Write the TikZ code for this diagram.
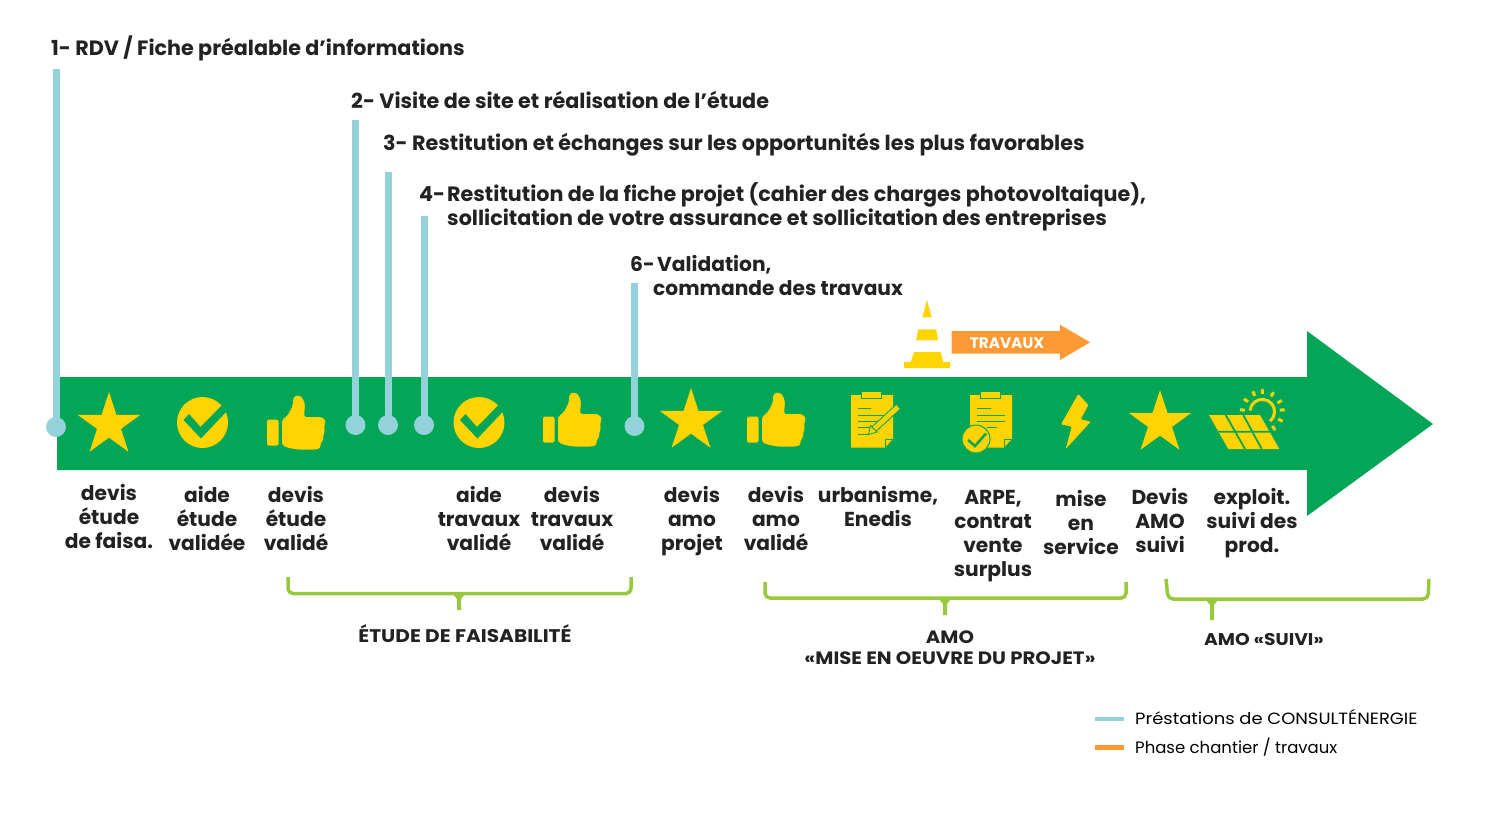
\documentclass[tikz,border=0pt]{standalone}
\usepackage{fontspec}
\setmainfont{Poppins}
\newfontfamily\widefont[FakeStretch=1.1]{Poppins}
\usetikzlibrary{positioning,shapes.geometric}
\definecolor{bandgreen}{HTML}{03A657}
\definecolor{iconyellow}{HTML}{FFD400}
\definecolor{pinblue}{HTML}{93D1DB}
\definecolor{workorange}{HTML}{FF9933}
\definecolor{bracelime}{HTML}{97C93D}
\definecolor{inkdark}{HTML}{222222}
\tikzstyle{stepbox}=[text=inkdark, anchor=north, align=center, inner sep=0pt,
                    font=\fontsize{20.2}{24}\selectfont\bfseries]
\tikzstyle{headbox}=[text=inkdark, anchor=west, align=left, inner sep=0pt,
                    font=\fontsize{20.7}{24}\selectfont\bfseries]
\tikzstyle{phasebox}=[text=inkdark, align=center, inner sep=0pt,
                    font=\widefont\fontsize{17.9}{21}\selectfont\bfseries]
\tikzstyle{legendbox}=[text=black, anchor=west, inner sep=0pt, font=\fontsize{16.5}{20}\selectfont]
\tikzstyle{pinhead}=[circle, fill=pinblue, minimum size=20pt, inner sep=0pt]
\tikzstyle{pinbar}=[-, draw=pinblue, line width=7pt]
\tikzstyle{staricon}=[star, star points=5, star point ratio=2.618, fill=iconyellow,
                    minimum size=66pt, inner sep=0pt]
\tikzstyle{brace}=[-, draw=bracelime, line width=3.5pt, rounded corners=5pt]
\tikzstyle{legline}=[-, line width=4.5pt]
\newcommand{\checkicon}[2]{
 \begin{scope}[shift={(#1,#2)}]
 \fill[iconyellow] (0,0) circle (25.5);
 \fill[bandgreen] (-19,-2.5) -- (-13.5,-8.5) -- (-2,4.5) -- (19.5,-17.5) -- (24,-11) -- (-1.5,16) -- cycle;
 \end{scope}}
\newcommand{\thumbicon}[2]{
 \begin{scope}[shift={(#1,#2)}]
 \fill[iconyellow, rounded corners=1.5pt] (0,24.5) rectangle (11.5,50.5);
 \fill[iconyellow, rounded corners=2.5pt] (15,25) -- (21,20) -- (26,10) -- (26,3) -- (30,0) -- (35,2)
   -- (38,9) -- (37,22) -- (55,22) -- (59,26) -- (57,32) -- (58,37) -- (56,40) -- (56.5,45)
   -- (53,48.5) -- (54,52.5) -- (50,54.5) -- (30,54.5) -- (20,52.5) -- (15,50) -- cycle;
 \end{scope}}
\newcommand{\clipicon}[2]{
 \begin{scope}[shift={(#1,#2)}]
 \fill[iconyellow] (0,0) -- (42,0) -- (42,44) -- (34,52.5) -- (0,52.5) -- cycle;
 \draw[bandgreen, line width=0.8pt] (34,52.5) -- (34,44.5) -- (42,44.5);
 \draw[bandgreen, line width=0.8pt, fill=iconyellow] (10.7,-3.5) rectangle (30,3.5);
 \end{scope}}
\newcommand{\bracestem}[3]{
 \fill[bracelime] (#1-7,#2) -- (#1+7,#2) -- (#1+2,#2+6) -- (#1+2,#3) -- (#1-2,#3) -- (#1-2,#2+6) -- cycle;}
\begin{document}
\begin{tikzpicture}[x=1pt, y=-1pt]
\useasboundingbox (0,0) rectangle (1493,815);

\fill[bandgreen] (57,377) -- (1307,377) -- (1307,331) -- (1433,424) -- (1307,516) -- (1307,470) -- (57,470) -- cycle;

\node (HEADA) [headbox] at (51,48.5) {1- RDV / Fiche préalable d’informations};
\node (HEADB) [headbox] at (351,99.5) {2- Visite de site et réalisation de l’étude};
\node (HEADC) [headbox] at (383,145) {3- Restitution et échanges sur les opportunités les plus favorables};
\node (HEADD) [headbox] at (419,206.5) {\makebox[28pt][l]{4-}Restitution de la fiche projet (cahier des charges photovoltaique),\\
 \makebox[28pt]{}sollicitation de votre assurance et sollicitation des entreprises};
\node (HEADF) [headbox, font=\fontsize{20.2}{24}\selectfont\bfseries] at (630,275) {\makebox[27pt][l]{6-}Validation,\\\makebox[23pt]{}commande des travaux};

\node (PINA) [pinhead] at (56,427) {};
\coordinate [above=358pt of PINA.center] (PINATOP);
 \draw[pinbar] (PINATOP) -- (PINA.center);
\node (PINB) [pinhead] at (355.5,425) {};
\coordinate [above=305pt of PINB.center] (PINBTOP);
 \draw[pinbar] (PINBTOP) -- (PINB.center);
\node (PINC) [pinhead] at (388,425) {};
\coordinate [above=253pt of PINC.center] (PINCTOP);
 \draw[pinbar] (PINCTOP) -- (PINC.center);
\node (PIND) [pinhead] at (424,425) {};
\coordinate [above=209pt of PIND.center] (PINDTOP);
 \draw[pinbar] (PINDTOP) -- (PIND.center);
\node (PINF) [pinhead] at (634.5,426) {};
\coordinate [above=143pt of PINF.center] (PINFTOP);
 \draw[pinbar] (PINFTOP) -- (PINF.center);

\node (STARA) [staricon] at (109,425) {};
\checkicon{202.5}{422.5}
\thumbicon{267}{395}
\checkicon{479}{422.5}
\thumbicon{543}{392}
\node (STARB) [staricon] at (691,421) {};
\thumbicon{747}{392}
\clipicon{851}{395}
 \draw[bandgreen, line width=0.8pt] (858,408.3) -- (871,408.3) (858,415) -- (884,415) (858,421.3) -- (877,421.3)
   (858,427.7) -- (870,427.7) (858,434) -- (868,434);
 \draw[bandgreen, line width=7pt] (873,430) -- (898,407);
 \draw[iconyellow, line width=5pt] (873,430) -- (898,407);
 \fill[iconyellow, draw=bandgreen, line width=0.8pt] (868.5,434.5) -- (870.5,425.5) -- (877,432) -- cycle;
\clipicon{970}{395}
 \draw[bandgreen, line width=0.8pt] (977,408.3) -- (991,408.3) (977,415) -- (1005,415) (977,421.3) -- (1005,421.3)
   (987,427.7) -- (997,427.7);
 \fill[iconyellow, draw=bandgreen, line width=1pt] (976,439) circle (14);
 \draw[bandgreen, line width=2.5pt] (968,440) -- (975,446) -- (986,433.5);
\fill[iconyellow, rounded corners=1pt] (1078.3,394) -- (1088.3,405) -- (1080.7,419.3) -- (1090.7,421.7) -- (1065.7,449)
   -- (1071.7,426.7) -- (1061,424.3) -- cycle;
\node (STARC) [staricon] at (1160,423) {};
\fill[iconyellow] (1209,415) -- (1260,415) -- (1279.3,449) -- (1228.3,449) -- cycle;
 \draw[bandgreen, line width=1.8pt] (1217,431.7) -- (1271,431.7) (1225.7,415) -- (1245,449) (1243.3,415) -- (1261.7,449);
\draw[iconyellow, line width=3pt] (1250,410.6) arc[start angle=-175, end angle=50, radius=12.3];
\foreach \a in {-175,-145,-115,-90,-60,-30,-5,25,55} {
 \draw[iconyellow, line width=3pt] (1262.3,411.7) ++(\a:17.5) -- ++(\a:5);
}

\node (LBLA) [stepbox] at (109,484.5) {devis\\étude\\de faisa.};
\node (LBLB) [stepbox] at (207,486.5) {aide\\étude\\validée};
\node (LBLC) [stepbox] at (296,486.5) {devis\\étude\\validé};
\node (LBLD) [stepbox] at (479,486.5) {aide\\travaux\\validé};
\node (LBLE) [stepbox] at (572,486.5) {devis\\travaux\\validé};
\node (LBLF) [stepbox] at (692,486.5) {devis\\amo\\projet};
\node (LBLG) [stepbox] at (776,486.5) {devis\\amo\\validé};
\node (LBLH) [stepbox] at (878,486.5) {urbanisme,\\Enedis};
\node (LBLI) [stepbox] at (993,490.5) {ARPE,\\contrat\\vente\\surplus};
\node (LBLJ) [stepbox] at (1081,490.5) {mise\\en\\service};
\node (LBLK) [stepbox] at (1160,488.5) {Devis\\AMO\\suivi};
\node (LBLL) [stepbox] at (1252,488.5) {exploit.\\suivi des\\prod.};

\fill[iconyellow] (927,300) -- (931.7,317.3) -- (922.3,317.3) -- cycle;
\fill[iconyellow] (918.3,329.3) -- (936,329.3) -- (938.3,340.3) -- (916,340.3) -- cycle;
\fill[iconyellow] (914,352) -- (940.7,352) -- (943.3,362) -- (950,362) -- (950,368) -- (904,368) -- (904,362) -- (910.7,362) -- cycle;
\fill[workorange] (951.7,331) -- (1060,331) -- (1060,324.7) -- (1090,342.3) -- (1060,360) -- (1060,353.7) -- (951.7,353.7) -- cycle;
\node (TRAV) [text=white, inner sep=0pt, font=\fontsize{15.3}{16}\selectfont\bfseries] at (1007,343) {TRAVAUX};

\draw[brace] (288,577) -- (288,593.5) -- (631,593.5) -- (631,577);
 \bracestem{459}{593}{610}
\draw[brace] (765,582) -- (765,598) -- (1126,598) -- (1126,582);
 \bracestem{945}{598}{615}
\draw[brace] (1166,579) -- (1168,599) -- (1428,599) -- (1429,579);
 \bracestem{1212}{599}{620}

\node (PHASEA) [phasebox, font=\widefont\fontsize{18.3}{21}\selectfont\bfseries] at (465,633.5) {ÉTUDE DE FAISABILITÉ};
\node (PHASEB) [phasebox] at (950,647.5) {AMO\\«MISE EN OEUVRE DU PROJET»};
\node (PHASEC) [phasebox, font=\widefont\fontsize{17}{21}\selectfont\bfseries] at (1264,639) {AMO «SUIVI»};

\coordinate (LEGA) at (1095,719);
\coordinate [right=29pt of LEGA] (LEGAEND);
 \draw[legline, draw=pinblue] (LEGA) -- (LEGAEND);
\node (LEGATXT) [legendbox, right=11pt of LEGAEND, yshift=1.5pt, font=\widefont\fontsize{16.3}{20}\selectfont] {Préstations de CONSULTÉNERGIE};
\coordinate (LEGB) at (1095,747.5);
\coordinate [right=29pt of LEGB] (LEGBEND);
 \draw[legline, draw=workorange] (LEGB) -- (LEGBEND);
\node (LEGBTXT) [legendbox, right=11pt of LEGBEND] {Phase chantier / travaux};

\end{tikzpicture}
\end{document}
